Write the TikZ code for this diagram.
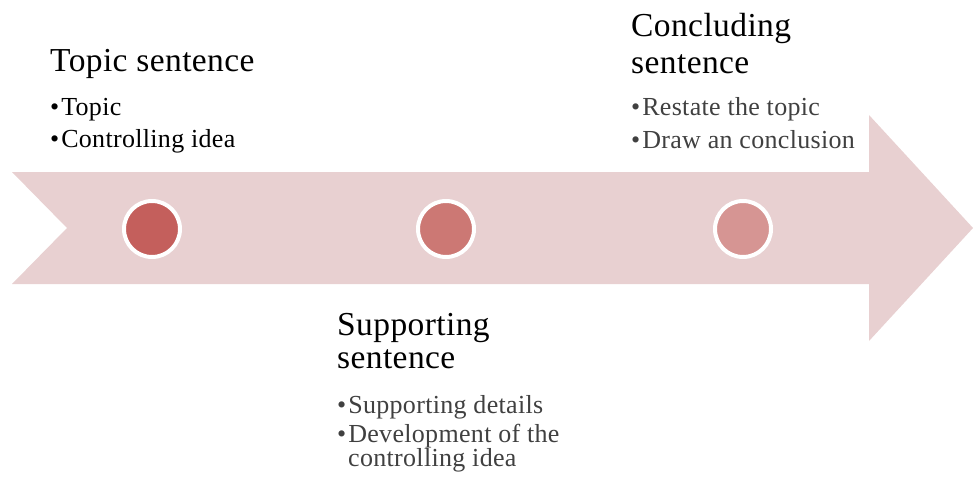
\documentclass[tikz,border=0pt]{standalone}
\usepackage{fontspec}
\setmainfont{Liberation Serif}[LetterSpace=1.2]
\definecolor{arrowfill}{HTML}{E8D0D1}
\definecolor{dotA}{HTML}{C45F5C}
\definecolor{dotB}{HTML}{CC7874}
\definecolor{dotC}{HTML}{D69593}
\definecolor{bulletgray}{HTML}{404040}
\newcommand{\bitem}{\textbullet\hspace{2pt}}
\begin{document}
\begin{tikzpicture}[x=1pt,y=-1pt,
  heading/.style={anchor=base west,inner sep=0pt,font=\fontsize{33.5}{36}\selectfont,text=black},
  bul/.style={anchor=base west,inner sep=0pt,font=\fontsize{26}{28}\selectfont},
  dot/.style={circle,draw=white,line width=4pt,minimum size=56pt,inner sep=0pt}]
\useasboundingbox (0,0) rectangle (973,476);
\fill[arrowfill] (12,172) -- (869,172) -- (869,115) -- (973,228) -- (869,341) -- (869,284) -- (12,284) -- (67,228) -- cycle;
\node[dot,fill=dotA] (c1) at (152,229) {};
\node[dot,fill=dotB] (c2) at (446,229) {};
\node[dot,fill=dotC] (c3) at (743,229) {};
% Topic sentence
\node[heading] (t1) at (50,72) {Topic sentence};
\node[bul,text=black] (t2) at (50,115) {\bitem Topic};
\node[bul,text=black] (t3) at (50,147) {\bitem Controlling idea};
% Supporting sentence
\node[heading] (s1) at (337,335) {Supporting};
\node[heading] (s2) at (337,368) {sentence};
\node[bul,text=bulletgray] (s3) at (337,413) {\bitem Supporting details};
\node[bul,text=bulletgray] (s4) at (337,442) {\bitem Development of the};
\node[bul,text=bulletgray] (s5) at (348,466) {controlling idea};
% Concluding sentence
\node[heading] (k1) at (631,37) {Concluding};
\node[heading] (k2) at (631,74) {sentence};
\node[bul,text=bulletgray] (k3) at (631,116) {\bitem Restate the topic};
\node[bul,text=bulletgray] (k4) at (631,148) {\bitem Draw an conclusion};
\end{tikzpicture}
\end{document}
